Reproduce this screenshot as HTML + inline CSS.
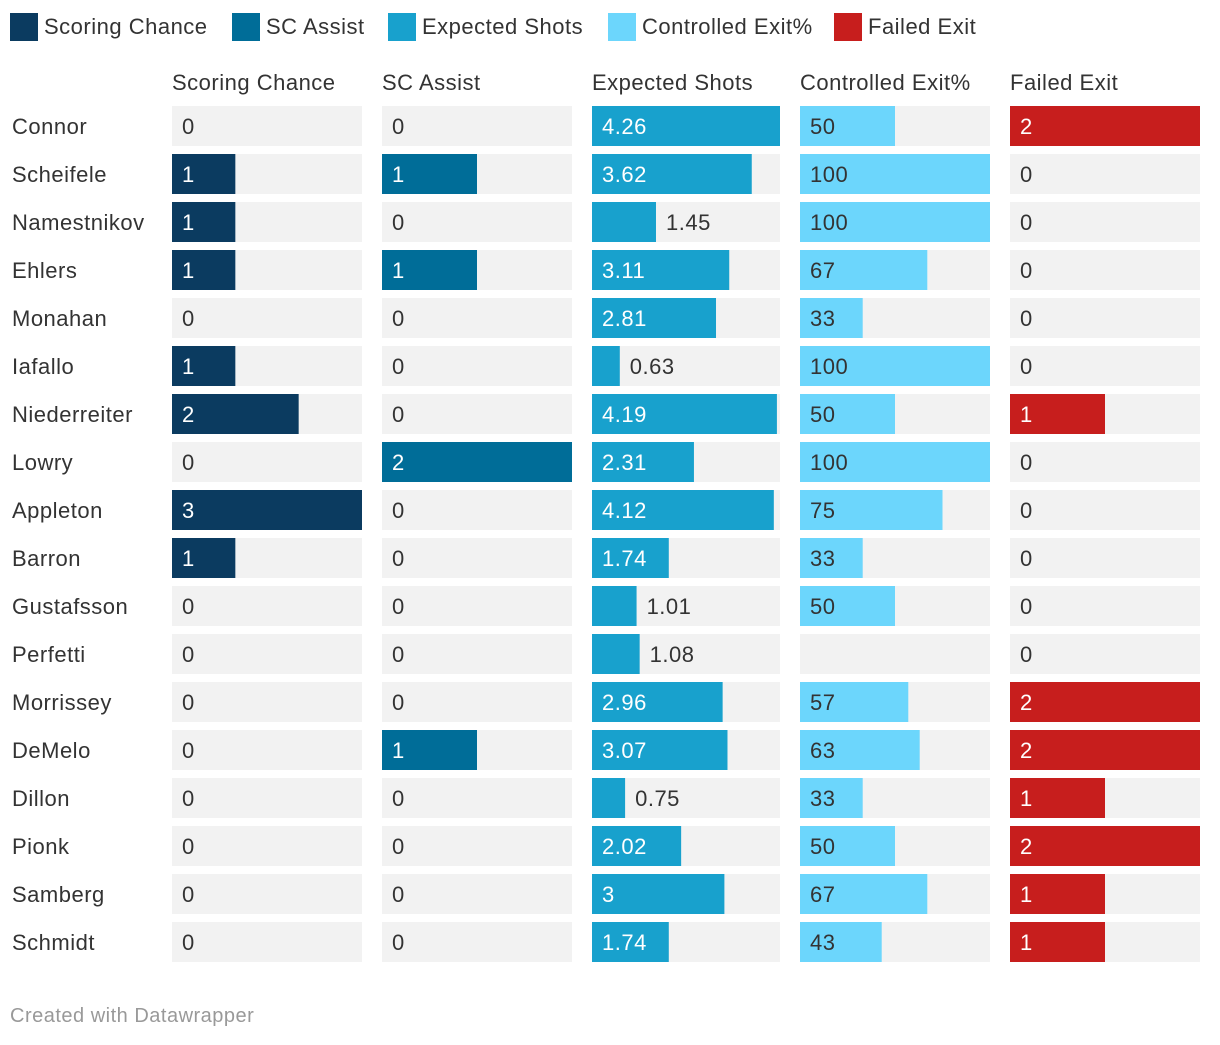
<!DOCTYPE html>
<html><head><meta charset="utf-8">
<style>
body{margin:0;background:#fff;width:1220px;height:1040px;overflow:hidden;font-family:"Liberation Sans",Arial,sans-serif;}
svg text{font-family:"Liberation Sans",Arial,sans-serif;letter-spacing:0.5px;}
</style></head>
<body>
<svg id="chart" width="1220" height="1040"></svg>
<script>
const players=["Connor","Scheifele","Namestnikov","Ehlers","Monahan","Iafallo","Niederreiter","Lowry","Appleton","Barron","Gustafsson","Perfetti","Morrissey","DeMelo","Dillon","Pionk","Samberg","Schmidt"];
const scoringChance=[0,1,1,1,0,1,2,0,3,1,0,0,0,0,0,0,0,0];
const scAssist=[0,1,0,1,0,0,0,2,0,0,0,0,0,1,0,0,0,0];
const expectedShots=[4.26,3.62,1.45,3.11,2.81,0.63,4.19,2.31,4.12,1.74,1.01,1.08,2.96,3.07,0.75,2.02,3,1.74];
const controlledExit=[50,100,100,67,33,100,50,100,75,33,50,null,57,63,33,50,67,43];
const failedExit=[2,0,0,0,0,0,1,0,0,0,0,0,2,2,1,2,1,1];
const columnTitles=["Scoring Chance","SC Assist","Expected Shots","Controlled Exit%","Failed Exit"];
const columnMax=[3,2,4.26,100,2];
const colors=["#0b3b60","#006d98","#18a1cd","#6cd6fc","#c71e1d"];
const insideText=["#fff","#fff","#fff","#333","#fff"];
const series=[scoringChance,scAssist,expectedShots,controlledExit,failedExit];

const NS="http://www.w3.org/2000/svg";
const svg=document.getElementById('chart');
function mk(tag,attrs,txt){const e=document.createElementNS(NS,tag);for(const k in attrs)e.setAttribute(k,attrs[k]);if(txt!==undefined)e.textContent=txt;svg.appendChild(e);return e;}

const legX=[10,232,388,608,834];
columnTitles.forEach((t,i)=>{
  const r=mk('rect',{x:legX[i],y:13,width:28,height:28,fill:colors[i]});
  
  
  const tx=mk('text',{x:legX[i]+34,y:34,'font-size':22,fill:'#333'},t);
  
  
});

const colX=[172,382,592,800,1010], colWs=[190,190,188,190,190], rowTop=106, rowH=40, pitch=48;
function xScale(c,v){return v/columnMax[c]*colWs[c];}
columnTitles.forEach((t,c)=>{
  const h=mk('text',{x:colX[c],y:90,'font-size':22,fill:'#333'},t);
  
  
});
players.forEach((p,r)=>{
  const y=rowTop+r*pitch;
  const n=mk('text',{x:12,y:y+28,'font-size':22,fill:'#333'},p);
  
  
  series.forEach((s,c)=>{
    const bg=mk('rect',{x:colX[c],y:y,width:colWs[c],height:rowH,fill:'#f2f2f2'});
    
    
    const v=s[r];
    if(v===null||v===undefined)return;
    const w=Math.min(colWs[c],xScale(c,v));
    if(w>0){
      const b=mk('rect',{x:colX[c],y:y,width:w,height:rowH,fill:colors[c]});
      
      
    }
    const label=String(v);
    let tw=0;for(const ch of label)tw+=(ch==='.'?6:12.2);
    let lx,fill;
    if(w>0&&w>=tw+26){lx=colX[c]+10;fill=insideText[c];}
    else if(w>0){lx=colX[c]+w+10;fill='#333';}
    else {lx=colX[c]+10;fill='#333';}
    const lt=mk('text',{x:lx,y:y+28,'font-size':22,fill:fill},label);
    
    
  });
});
const f=mk('text',{x:10,y:1022,'font-size':20,fill:'#999','letter-spacing':'1.2px'},'Created with Datawrapper');


</script>
</body></html>
